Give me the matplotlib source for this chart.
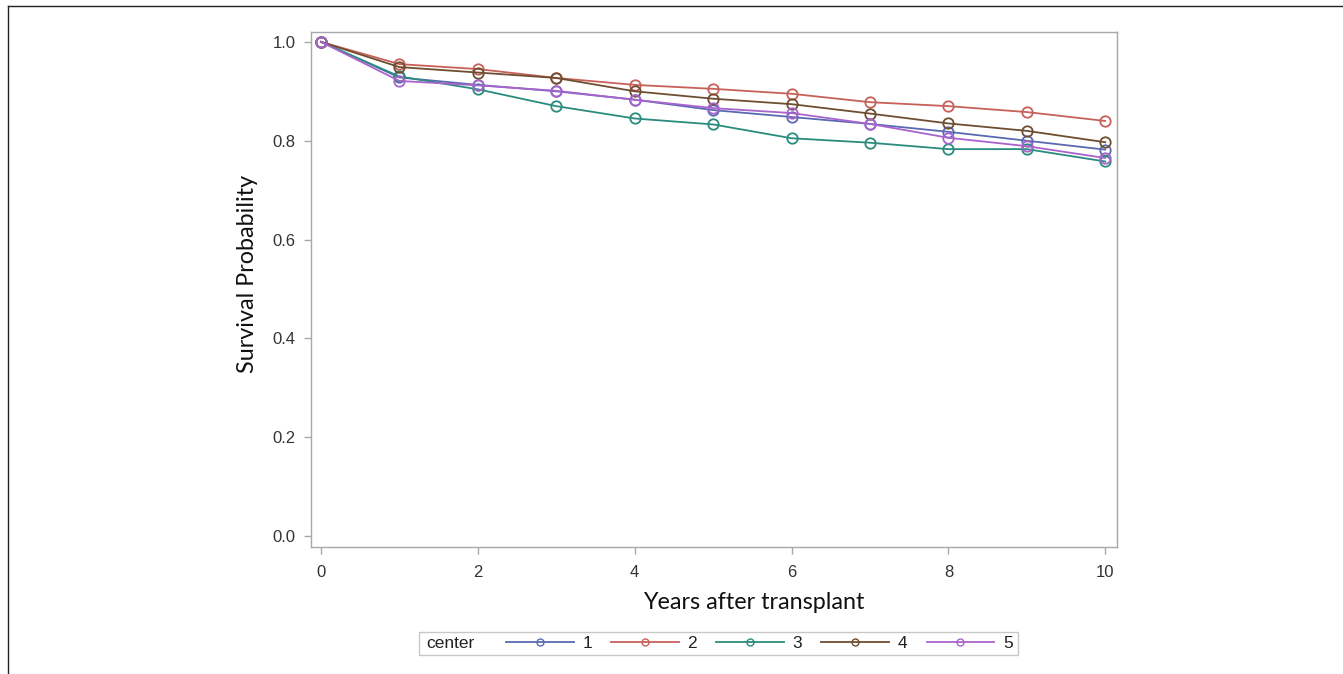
import matplotlib
matplotlib.use("Agg")
import matplotlib.pyplot as plt
from matplotlib.lines import Line2D
from matplotlib.patches import Rectangle

# survival estimates
years = [0, 1, 2, 3, 4, 5, 6, 7, 8, 9, 10]
centers = ["1", "2", "3", "4", "5"]
surv_1 = [1.0, 0.928, 0.913, 0.900, 0.883, 0.862, 0.848, 0.834, 0.818, 0.800, 0.782]
surv_2 = [1.0, 0.955, 0.945, 0.927, 0.913, 0.905, 0.895, 0.878, 0.870, 0.858, 0.840]
surv_3 = [1.0, 0.930, 0.904, 0.870, 0.845, 0.833, 0.805, 0.796, 0.783, 0.783, 0.758]
surv_4 = [1.0, 0.949, 0.938, 0.927, 0.900, 0.885, 0.874, 0.855, 0.835, 0.820, 0.797]
surv_5 = [1.0, 0.921, 0.912, 0.901, 0.883, 0.866, 0.856, 0.834, 0.806, 0.789, 0.765]
series = [surv_1, surv_2, surv_3, surv_4, surv_5]
colors = ["#5A6AB2", "#C8605A", "#2A8C7E", "#6E4E30", "#A864CC"]

W, H = 1343, 674
fig = plt.figure(figsize=(W / 100, H / 100), dpi=100)
ax = fig.add_axes([311 / W, 1 - 547 / H, (1117 - 311) / W, (547 - 32) / H])

for vals, c in zip(series, colors):
    ax.plot(years, vals, color=c, lw=1.3, marker="o", markersize=7.5,
            markerfacecolor="none", markeredgecolor=c, markeredgewidth=1.3)

ax.set_xlim(-0.128, 10.15)
ax.set_ylim(-0.022, 1.02)
ax.set_xticks([0, 2, 4, 6, 8, 10])
ax.set_yticks([0.0, 0.2, 0.4, 0.6, 0.8, 1.0])
ax.set_yticklabels(["0.0", "0.2", "0.4", "0.6", "0.8", "1.0"])

for s in ax.spines.values():
    s.set_color("#a8a8a8")
    s.set_linewidth(1)
ax.tick_params(direction="out", length=5, width=1, color="#a8a8a8",
               labelcolor="#333333", labelsize=12)
ax.tick_params(axis="x", pad=8)
ax.tick_params(axis="y", pad=6)
for t in ax.get_xticklabels() + ax.get_yticklabels():
    t.set_fontfamily("Liberation Sans")

ax.set_xlabel("Years after transplant", fontsize=16.8, family="Lato", color="#111111")
ax.set_ylabel("Survival Probability", fontsize=16.8, family="Lato", color="#111111")
ax.xaxis.set_label_coords(0.5496, -0.088)
ax.yaxis.set_label_coords(-0.066, 0.531)

# legend: framed row with "center" caption on the left
handles = [Line2D([], [], color=c, lw=1.3, marker="o", markersize=5,
                  markerfacecolor="none", markeredgecolor=c) for c in colors]
leg = fig.legend(handles, centers, ncol=5, loc="center left",
                 bbox_to_anchor=(506 / W, 1 - 643.5 / H), frameon=False,
                 borderpad=0, borderaxespad=0, handlelength=3.9,
                 handletextpad=0.5, columnspacing=1.1,
                 prop={"family": "Liberation Sans", "size": 12.5})
for t in leg.get_texts():
    t.set_color("#222222")
fig.text(426 / W, 1 - 643.5 / H, "center", ha="left", va="center",
         fontsize=12.5, family="Liberation Sans", color="#222222")
fig.patches.append(Rectangle((419 / W, 1 - 655 / H), (1018 - 419) / W, 23 / H,
                             transform=fig.transFigure, fill=False,
                             edgecolor="#c8c8c8", lw=1))

# outer border, left and top only
fig.add_artist(Line2D([8 / W, 8 / W], [0, 1 - 6 / H], color="#222222", lw=1,
                      transform=fig.transFigure))
fig.add_artist(Line2D([8 / W, 1], [1 - 6 / H, 1 - 6 / H], color="#222222", lw=1,
                      transform=fig.transFigure))

fig.savefig("out.png", dpi=100)
